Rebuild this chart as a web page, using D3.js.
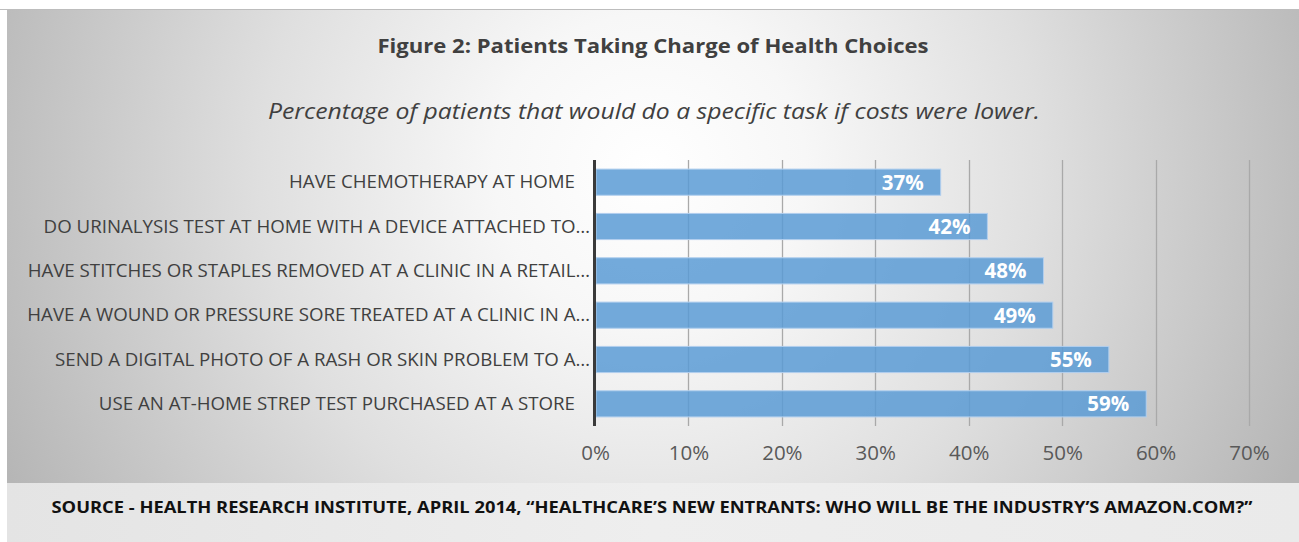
<!DOCTYPE html>
<html>
<head>
<meta charset="utf-8">
<script src="https://cdn.jsdelivr.net/npm/d3@7"></script>
<style>
  html, body { margin: 0; padding: 0; background: #ffffff; }
  svg { display: block; }
</style>
</head>
<body>
<svg id="chart" width="1299" height="542"></svg>
<script>
// ---- data ----
const titleText = "Figure 2: Patients Taking Charge of Health Choices";
const subtitleText = "Percentage of patients that would do a specific task if costs were lower.";
const sourceText = "SOURCE - HEALTH RESEARCH INSTITUTE, APRIL 2014, \u201CHEALTHCARE\u2019S NEW ENTRANTS: WHO WILL BE THE INDUSTRY\u2019S AMAZON.COM?\u201D";
const categories = [
  "HAVE CHEMOTHERAPY AT HOME",
  "DO URINALYSIS TEST AT HOME WITH A DEVICE ATTACHED TO\u2026",
  "HAVE STITCHES OR STAPLES REMOVED AT A CLINIC IN A RETAIL\u2026",
  "HAVE A WOUND OR PRESSURE SORE TREATED AT A CLINIC IN A\u2026",
  "SEND A DIGITAL PHOTO OF A RASH OR SKIN PROBLEM TO A\u2026",
  "USE AN AT-HOME STREP TEST PURCHASED AT A STORE"
];
const values = [0.37, 0.42, 0.48, 0.49, 0.55, 0.59];
const tickValues = [0, 0.1, 0.2, 0.3, 0.4, 0.5, 0.6, 0.7];

// ---- layout ----
const W = 1299, H = 542;
const svg = d3.select("#chart");
const defs = svg.append("defs");

const rg = defs.append("radialGradient").attr("id", "bg")
  .attr("gradientUnits", "userSpaceOnUse")
  .attr("cx", 650).attr("cy", 170).attr("r", 710);
rg.append("stop").attr("offset", 0).attr("stop-color", "#ffffff");
rg.append("stop").attr("offset", 0.22).attr("stop-color", "#f7f7f7");
rg.append("stop").attr("offset", 0.55).attr("stop-color", "#dfdfdf");
rg.append("stop").attr("offset", 1).attr("stop-color", "#b6b6b6");

const bg2 = defs.append("linearGradient").attr("id", "band")
  .attr("x1", 0).attr("x2", 1).attr("y1", 0).attr("y2", 0);
bg2.append("stop").attr("offset", 0).attr("stop-color", "#e4e4e4");
bg2.append("stop").attr("offset", 0.5).attr("stop-color", "#eeeeee");
bg2.append("stop").attr("offset", 1).attr("stop-color", "#eaeaea");

// panel
svg.append("rect").attr("x", 7).attr("y", 10).attr("width", W - 7).attr("height", 473)
  .attr("fill", "url(#bg)");
svg.append("rect").attr("x", 7).attr("y", 483).attr("width", W - 7).attr("height", H - 483)
  .attr("fill", "url(#band)");
svg.append("line").attr("x1", 0).attr("x2", W).attr("y1", 9.5).attr("y2", 9.5)
  .attr("stroke", "#bdbdbd").attr("stroke-width", 1);

const font = "'Open Sans', 'Noto Sans', sans-serif";

// title & subtitle
svg.append("text").attr("x", 653).attr("y", 53).attr("text-anchor", "middle")
  .attr("font-family", font).attr("font-weight", 700).attr("font-size", 20)
  .attr("fill", "#404040").attr("textLength", 551).attr("lengthAdjust", "spacingAndGlyphs")
  .text(titleText);
svg.append("text").attr("x", 654).attr("y", 119).attr("text-anchor", "middle")
  .attr("font-family", font).attr("font-style", "italic").attr("font-size", 21)
  .attr("fill", "#404040").attr("textLength", 772).attr("lengthAdjust", "spacingAndGlyphs")
  .text(subtitleText);

// scales
const x = d3.scaleLinear().domain([0, 0.7]).range([595, 1249]);
const y = d3.scaleBand().domain(categories).range([160, 426]).paddingInner(0.41).paddingOuter(0.205);

// gridlines
svg.append("g").selectAll("line").data(tickValues.slice(1)).join("line")
  .attr("x1", d => Math.round(x(d)) + 0.5).attr("x2", d => Math.round(x(d)) + 0.5)
  .attr("y1", 160).attr("y2", 426)
  .attr("stroke", "#a9a9a9").attr("stroke-width", 1.3);

// bars
svg.append("g").selectAll("rect").data(values).join("rect")
  .attr("x", x(0) + 1)
  .attr("y", (d, i) => y(categories[i]))
  .attr("width", d => x(d) - x(0) - 1)
  .attr("height", y.bandwidth())
  .attr("fill", "#5b9bd5").attr("fill-opacity", 0.85)
  .attr("stroke", "#b2cfee").attr("stroke-width", 1);

// value labels
svg.append("g").selectAll("text").data(values).join("text")
  .attr("x", d => x(d) - 17)
  .attr("y", (d, i) => y(categories[i]) + y.bandwidth() / 2)
  .attr("dy", "0.37em")
  .attr("text-anchor", "end")
  .attr("font-family", font).attr("font-weight", 700).attr("font-size", 20.5)
  .attr("fill", "#ffffff")
  .text(d => d3.format(".0%")(d));

// category axis (labels)
const yAxis = d3.axisLeft(y).tickSize(0).tickPadding(0);
const ya = svg.append("g").attr("transform", `translate(${x(0) - 5},0)`).call(yAxis);
ya.select(".domain").remove();
ya.selectAll("text")
  .attr("font-family", font).attr("font-size", 19).attr("fill", "#404040")
  .attr("dx", d => d.endsWith("\u2026") ? 0 : -15)
  .each(function () {
    const w = this.getComputedTextLength();
    d3.select(this).attr("textLength", w * 0.983).attr("lengthAdjust", "spacingAndGlyphs");
  });

// vertical axis line
svg.append("line").attr("x1", x(0) - 0.5).attr("x2", x(0) - 0.5)
  .attr("y1", 160).attr("y2", 426)
  .attr("stroke", "#3a3a3a").attr("stroke-width", 3);

// x axis tick labels
const xAxis = d3.axisBottom(x).tickValues(tickValues).tickFormat(d3.format(".0%")).tickSize(0).tickPadding(0);
const xa = svg.append("g").attr("transform", "translate(0,445)").call(xAxis);
xa.select(".domain").remove();
xa.selectAll("text").attr("font-family", font).attr("font-size", 20.5).attr("fill", "#595959");

// source
svg.append("text").attr("x", 652).attr("y", 513).attr("text-anchor", "middle")
  .attr("font-family", font).attr("font-weight", 700).attr("font-size", 16.5)
  .attr("fill", "#111111").attr("textLength", 1201).attr("lengthAdjust", "spacingAndGlyphs")
  .text(sourceText);
</script>
</body>
</html>
